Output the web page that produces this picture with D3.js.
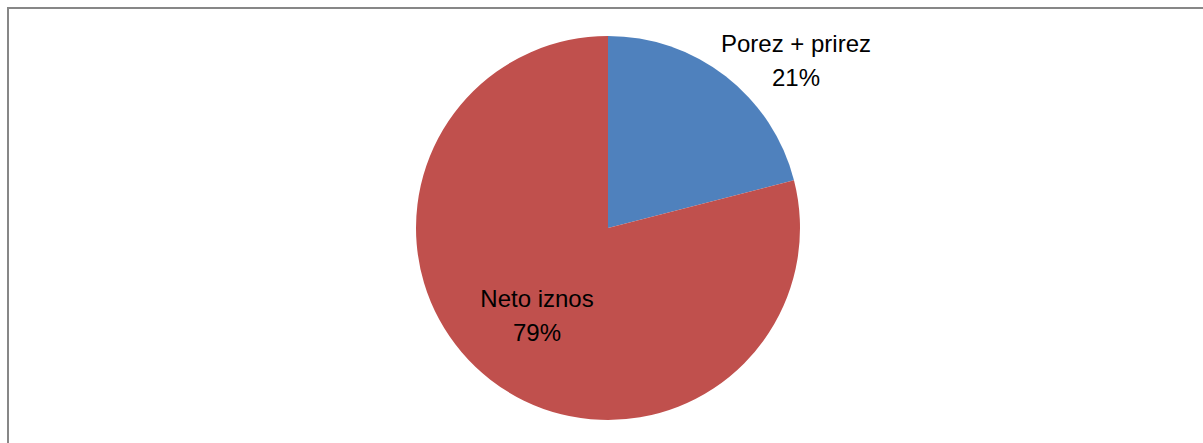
<!DOCTYPE html>
<meta charset="utf-8">
<style>
body { margin: 0; background: #fff; }
#chart { font-family: "Liberation Sans", sans-serif; }
</style>
<div id="chart"></div>
<script src="https://d3js.org/d3.v7.min.js"></script>
<script>
// data
var categories = ["Porez + prirez", "Neto iznos"];
var values = [21, 79];
var colors = ["#4f81bd", "#c0504d"];
// label centers relative to pie center
var labelPos = [[188, -176], [-71, 79]];

var width = 1203, height = 443;
var cx = 608, cy = 228, radius = 192;

var svg = d3.select("#chart").append("svg")
    .attr("width", width)
    .attr("height", height);

// chart frame (right and bottom edges outside the view)
svg.append("rect")
    .attr("x", 8).attr("y", 8)
    .attr("width", 1200).attr("height", 450)
    .attr("fill", "none")
    .attr("stroke", "#878787")
    .attr("stroke-width", 2);

var pie = d3.pie().sort(null).value(function(d) { return d; });
var arc = d3.arc().innerRadius(0).outerRadius(radius);

var g = svg.append("g").attr("transform", "translate(" + cx + "," + cy + ")");

g.selectAll("path")
    .data(pie(values))
    .enter()
    .append("path")
    .attr("d", arc)
    .attr("fill", function(d, i) { return colors[i]; });

var labels = g.selectAll("text.lbl")
    .data(categories)
    .enter()
    .append("text")
    .attr("class", "lbl")
    .attr("text-anchor", "middle")
    .attr("font-size", "24px")
    .attr("fill", "#000")
    .attr("transform", function(d, i) { return "translate(" + labelPos[i][0] + "," + labelPos[i][1] + ")"; });

labels.append("tspan").attr("x", 0).attr("y", 0).text(function(d) { return d; });
labels.append("tspan").attr("x", 0).attr("y", 34).text(function(d, i) { return values[i] + "%"; });
</script>
